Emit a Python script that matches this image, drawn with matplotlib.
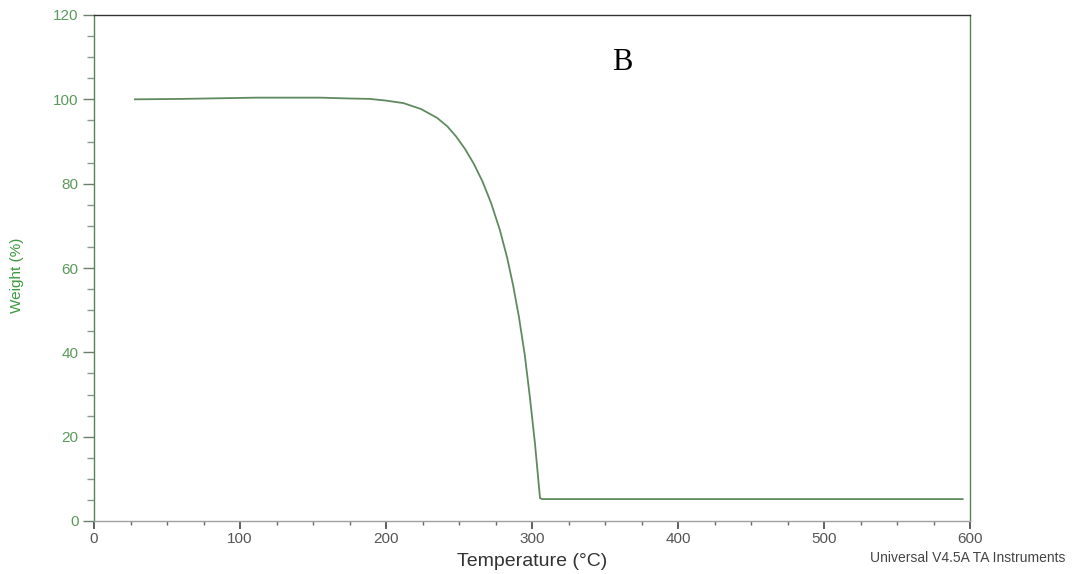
import matplotlib
matplotlib.use("Agg")
import matplotlib.pyplot as plt
from matplotlib.ticker import MultipleLocator

# TGA curve: temperature (°C) vs. remaining weight (%)
temperature = [28, 60, 111, 155, 175, 189, 200, 212, 224, 235, 242, 248, 254,
               260, 266, 272, 278, 283, 287, 291, 295, 298.5, 302, 305.5, 307, 595]
weight = [100.0, 100.1, 100.4, 100.4, 100.2, 100.1, 99.7, 99.1, 97.7, 95.6,
          93.6, 91.2, 88.3, 84.8, 80.6, 75.4, 69.0, 62.4, 56.0, 48.5, 39.5,
          29.5, 18.5, 5.4, 5.2, 5.2]

x_ticks = [0, 100, 200, 300, 400, 500, 600]
y_ticks = [0, 20, 40, 60, 80, 100, 120]

plt.rcParams['font.family'] = ['Liberation Sans', 'DejaVu Sans']

W, H = 1074, 574
fig = plt.figure(figsize=(W / 100, H / 100), dpi=100)
ax = fig.add_axes([94 / W, 1 - 521 / H, (970 - 94) / W, (521 - 15) / H])

ax.plot(temperature, weight, color='#5f8a5f', lw=1.3)

ax.set_xlim(0, 600)
ax.set_ylim(0, 120)
ax.set_xticks(x_ticks)
ax.set_yticks(y_ticks)
ax.xaxis.set_minor_locator(MultipleLocator(25))
ax.yaxis.set_minor_locator(MultipleLocator(5))

ax.spines['left'].set_color('#5a825a')
ax.spines['right'].set_color('#5a825a')
ax.spines['top'].set_color('#333333')
ax.spines['bottom'].set_color('#a0a0a0')
for s in ax.spines.values():
    s.set_linewidth(1.0)

ax.tick_params(axis='y', which='major', direction='out', length=8, width=1,
               color='#6a806a', labelcolor='#5a9a5a', labelsize=11, pad=3)
ax.tick_params(axis='y', which='minor', direction='out', length=5, width=1,
               color='#8a9a8a')
ax.tick_params(axis='x', which='major', direction='out', length=6, width=1.2,
               color='#444444', labelcolor='#555555', labelsize=11, pad=2)
ax.tick_params(axis='x', which='minor', direction='out', length=3, width=1,
               color='#666666')

ax.set_xlabel('Temperature (°C)', fontsize=14, color='#333333', labelpad=5)

fig.text(17 / W, 1 - 275 / H, 'Weight (%)', rotation=90, fontsize=11,
         color='#3a9a3a', ha='center', va='center')
fig.text(622 / W, 1 - 63 / H, 'B', fontsize=22, family='Liberation Serif',
         color='black', ha='center', va='center')
fig.text(968 / W, 1 - 558 / H, 'Universal V4.5A TA Instruments',
         fontsize=10, color='#444444', ha='center', va='center')

fig.savefig('out.png', dpi=100, facecolor='white')
